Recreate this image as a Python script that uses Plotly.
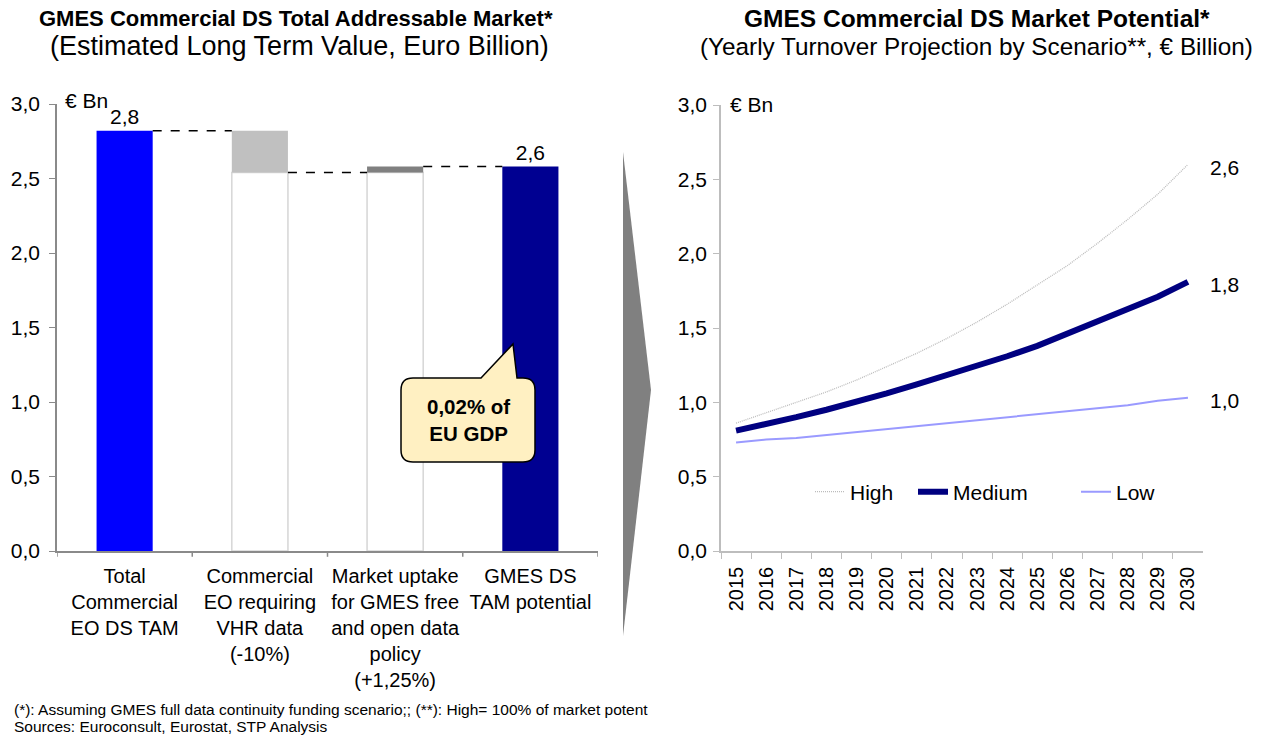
import plotly.graph_objects as go

# ---------------- data ----------------
stage_labels = [
    "Total<br>Commercial<br>EO DS TAM",
    "Commercial<br>EO requiring<br>VHR data<br>(-10%)",
    "Market uptake<br>for GMES free<br>and open data<br>policy<br>(+1,25%)",
    "GMES DS<br>TAM potential",
]
total_tam = 2.82          # Euro Bn
vhr_change = -0.28        # commercial EO requiring VHR data
uptake_change = 0.04      # uptake from free and open data policy

years = [str(y) for y in range(2015, 2031)]
high = [0.86, 0.93, 1.00, 1.07, 1.15, 1.24, 1.33, 1.43, 1.54, 1.66, 1.79, 1.92, 2.07, 2.23, 2.40, 2.60]
medium = [0.81, 0.85, 0.90, 0.95, 1.00, 1.06, 1.12, 1.18, 1.24, 1.31, 1.38, 1.46, 1.54, 1.62, 1.71, 1.81]
low = [0.73, 0.75, 0.76, 0.78, 0.80, 0.82, 0.84, 0.86, 0.88, 0.90, 0.92, 0.94, 0.96, 0.98, 1.01, 1.03]

y_ticks = [0, 0.5, 1.0, 1.5, 2.0, 2.5, 3.0]

# ---------------- layout helpers ----------------
W, H = 1268, 736
FONT = "Liberation Sans, Arial, sans-serif"


def fx(p):
    return p / W


def fy(p):
    return 1 - p / H


def fmt(v):
    return f"{v:.1f}".replace(".", ",")


# waterfall geometry
after_vhr = total_tam + vhr_change
potential = after_vhr + uptake_change
bar_base = [0, after_vhr, after_vhr, 0]
bar_height = [total_tam, -vhr_change, uptake_change, potential]
bar_colors = ["#0000ff", "#c0c0c0", "#808080", "#000091"]
bar_text = [fmt(total_tam), "", "", fmt(potential)]
BAR_W = 0.415

fig = go.Figure()

# white supporting columns under the change steps
fig.add_trace(go.Bar(
    x=[1, 2], y=[after_vhr, after_vhr], base=[0, 0],
    width=BAR_W, marker=dict(color="white", line=dict(color="#d6d6d6", width=1.5)),
    showlegend=False, hoverinfo="skip", xaxis="x", yaxis="y",
))
fig.add_trace(go.Bar(
    x=[0, 1, 2, 3], y=bar_height, base=bar_base, width=BAR_W,
    marker=dict(color=bar_colors, line=dict(width=0)),
    text=bar_text, textposition="outside", cliponaxis=False,
    textfont=dict(size=21, color="black", family=FONT),
    showlegend=False, xaxis="x", yaxis="y",
))

# scenario lines, each with its own legend entry box
fig.add_trace(go.Scatter(
    x=years, y=high, mode="lines", name="High", legend="legend",
    line=dict(color="#bcbcbc", width=1.3, dash="1px,1px"), xaxis="x2", yaxis="y2",
))
fig.add_trace(go.Scatter(
    x=years, y=medium, mode="lines", name="Medium", legend="legend2",
    line=dict(color="#000080", width=6), xaxis="x2", yaxis="y2",
))
fig.add_trace(go.Scatter(
    x=years, y=low, mode="lines", name="Low", legend="legend3",
    line=dict(color="#9a9aff", width=2), xaxis="x2", yaxis="y2",
))

shapes = []
# dashed connectors between waterfall steps
levels = [total_tam, after_vhr, potential]
for i, lvl in enumerate(levels):
    shapes.append(dict(
        type="line", xref="x", yref="y",
        x0=i + BAR_W / 2, x1=i + 1 - BAR_W / 2, y0=lvl, y1=lvl,
        line=dict(color="black", width=1.5, dash="dash"),
    ))

# speech-bubble callout
L, R, T, B, r = 401, 535, 378, 462, 12
tail = [(481, 378), (513, 344), (517, 378)]
pts = [
    ("M", (L + r, T)), ("L", tail[0]), ("L", tail[1]), ("L", tail[2]), ("L", (R - r, T)),
    ("Q", (R, T), (R, T + r)), ("L", (R, B - r)), ("Q", (R, B), (R - r, B)),
    ("L", (L + r, B)), ("Q", (L, B), (L, B - r)), ("L", (L, T + r)), ("Q", (L, T), (L + r, T)),
]
path = ""
for item in pts:
    cmd = item[0]
    coords = " ".join(f"{fx(x):.5f},{fy(y):.5f}" for x, y in item[1:])
    path += f"{cmd}{coords} "
path += "Z"
shapes.append(dict(type="path", xref="paper", yref="paper", path=path,
                   fillcolor="#fff0c2", line=dict(color="black", width=1.5), layer="above"))

# grey transition arrow between the two panels
arrow = f"M{fx(623):.5f},{fy(152):.5f} L{fx(651):.5f},{fy(390):.5f} L{fx(623):.5f},{fy(636):.5f} Z"
shapes.append(dict(type="path", xref="paper", yref="paper", path=arrow,
                   fillcolor="#808080", line=dict(width=0)))


def ptext(x, y, text, size, anchor="center"):
    return dict(x=fx(x), y=fy(y), xref="paper", yref="paper", xanchor=anchor, yanchor="middle",
                showarrow=False, text=text, font=dict(size=size))


annotations = [
    ptext(296, 19, "<b>GMES Commercial DS Total Addressable Market*</b>", 22),
    ptext(299, 46, "(Estimated Long Term Value, Euro Billion)", 27),
    ptext(977, 19, "<b>GMES Commercial DS Market Potential*</b>", 24.5),
    ptext(976, 46, "(Yearly Turnover Projection by Scenario**, € Billion)", 24.3),
    ptext(468, 420, "<b>0,02% of<br>EU GDP</b>", 20.5),
    ptext(12, 709, "(*): Assuming GMES full data continuity funding scenario;; (**): High= 100% of market potent",
          15.5, "left"),
    ptext(12, 726, "Sources: Euroconsult, Eurostat, STP Analysis", 15.5, "left"),
    dict(x=fx(63), y=3.0, xref="paper", yref="y", xanchor="left", yanchor="middle", yshift=3,
         showarrow=False, text="€ Bn", font=dict(size=21)),
    dict(x=fx(728), y=3.0, xref="paper", yref="y2", xanchor="left", yanchor="middle", yshift=1,
         showarrow=False, text="€ Bn", font=dict(size=21)),
]
# end-of-line value labels (x given as category index)
for series in (high, medium, low):
    annotations.append(dict(
        x=len(years) - 1, y=series[-1], xref="x2", yref="y2", xanchor="left", yanchor="middle",
        xshift=20, yshift=-3, showarrow=False, text=fmt(series[-1]), font=dict(size=21),
    ))

common = dict(showgrid=False, zeroline=False, showline=True, ticks="outside", automargin=False)


def legend_box(text_px):
    return dict(orientation="h", x=fx(text_px - 42), y=fy(492), xanchor="left", yanchor="middle",
                bgcolor="rgba(0,0,0,0)", font=dict(size=21))


fig.update_layout(
    width=W, height=H, autosize=False,
    margin=dict(l=0, r=0, t=0, b=0, pad=0, autoexpand=False),
    paper_bgcolor="white", plot_bgcolor="white",
    font=dict(family=FONT, color="black"),
    separators=", ",
    barmode="overlay",
    xaxis=dict(domain=[fx(57), fx(598)], anchor="y", type="linear", range=[-0.5, 3.5],
               tickmode="array", tickvals=[0, 1, 2, 3], ticktext=stage_labels, tickangle=0,
               linecolor="#8a8a8a", linewidth=1.5, ticklen=0, ticklabelstandoff=6,
               tickfont=dict(size=20, color="black"), **common),
    yaxis=dict(domain=[fy(551), fy(104)], anchor="x", range=[0, 3], tickvals=y_ticks,
               tickformat=".1f", linecolor="#8a8a8a", linewidth=1.5, tickcolor="#8a8a8a",
               ticklen=6, ticklabelstandoff=5, tickfont=dict(size=21, color="black"), **common),
    xaxis2=dict(domain=[fx(721), fx(1203)], anchor="y2", type="category",
                range=[-0.5, len(years) - 0.5],
                tickson="boundaries", tickangle=-90, linecolor="#bdbdbd", linewidth=1.5,
                tickcolor="#bdbdbd", ticklen=6, ticklabelstandoff=6,
                tickfont=dict(size=20, color="black"), **common),
    yaxis2=dict(domain=[fy(551), fy(105)], anchor="x2", range=[0, 3], tickvals=y_ticks,
                tickformat=".1f", linecolor="#bdbdbd", linewidth=1.5, tickcolor="#bdbdbd",
                ticklen=6, ticklabelstandoff=2, tickfont=dict(size=21, color="black"), **common),
    legend=legend_box(852),
    legend2=legend_box(955),
    legend3=legend_box(1118),
    shapes=shapes,
    annotations=annotations,
)

# boundary tick marks between the waterfall categories
for b in [-0.5, 0.5, 1.5, 2.5, 3.5]:
    fig.add_shape(type="line", xref="x", yref="y domain", x0=b, x1=b, y0=0, y1=-0.013,
                  line=dict(color="#8a8a8a", width=1.5))

fig.write_html("out.html")
